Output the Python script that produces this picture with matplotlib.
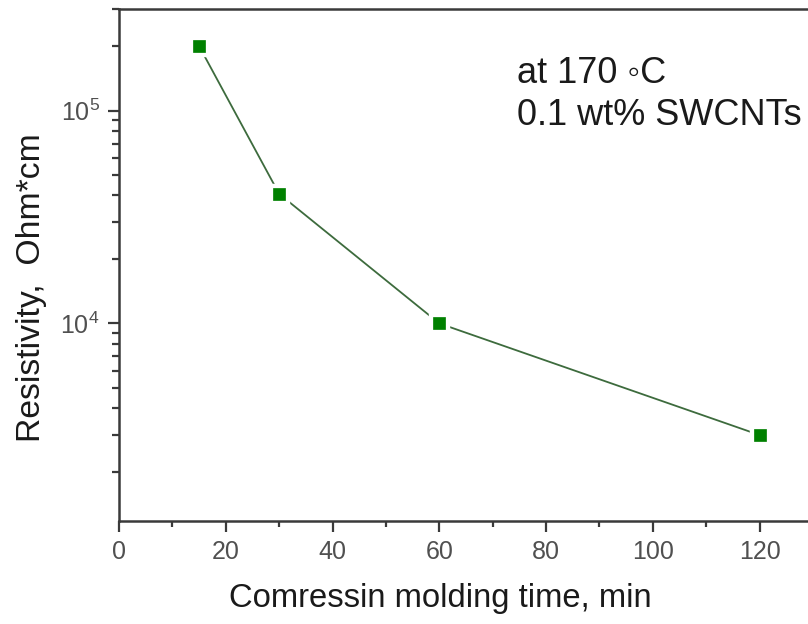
import matplotlib
matplotlib.use("Agg")
import matplotlib.pyplot as plt
from matplotlib.ticker import FixedLocator, LogLocator, NullFormatter, LogFormatterMathtext

# Resistivity vs compression molding time
time_min = [15, 30, 60, 120]
resistivity = [2.01e5, 4.06e4, 1.0e4, 2.99e3]

x_major = [0, 20, 40, 60, 80, 100, 120]
x_minor = [10, 30, 50, 70, 90, 110, 130]

plt.rcParams['font.family'] = ['Liberation Sans', 'DejaVu Sans']
plt.rcParams['mathtext.fontset'] = 'custom'
plt.rcParams['mathtext.rm'] = 'Liberation Sans'
plt.rcParams['mathtext.it'] = 'Liberation Sans'

W, H = 808, 624
fig = plt.figure(figsize=(W / 100, H / 100), dpi=100)
left, right, top, bottom = 119, 813, 9, 521
ax = fig.add_axes([left / W, 1 - bottom / H, (right - left) / W, (bottom - top) / H])

spine_c = '#3a3a3a'
tick_lbl_c = '#505050'
line_c = '#3d6b3d'
mark_c = '#008000'

ax.plot(time_min, resistivity, '-', color=line_c, lw=1.3, zorder=2)
ax.plot(time_min, resistivity, 's', ms=14, mfc='white', mec='white', zorder=3)
ax.plot(time_min, resistivity, 's', ms=8, mfc=mark_c, mec=mark_c, mew=0.5, zorder=4)

ax.set_yscale('log')
ax.set_xlim(0, 130)
ax.set_ylim(1180, 3e5)

ax.xaxis.set_major_locator(FixedLocator(x_major))
ax.xaxis.set_minor_locator(FixedLocator(x_minor))
ax.yaxis.set_major_locator(LogLocator(base=10, numticks=10))
ax.yaxis.set_minor_locator(LogLocator(base=10, subs=range(2, 10), numticks=20))
ax.yaxis.set_major_formatter(LogFormatterMathtext())
ax.yaxis.set_minor_formatter(NullFormatter())

for s in ax.spines.values():
    s.set_color(spine_c)
    s.set_linewidth(1.8)

ax.tick_params(which='both', direction='out', color=spine_c, width=1.6,
               labelcolor=tick_lbl_c, labelsize=18)
ax.tick_params(axis='x', which='major', length=8, pad=6)
ax.tick_params(axis='x', which='minor', length=4)
ax.tick_params(axis='y', which='major', length=8, pad=6)
ax.tick_params(axis='y', which='minor', length=5)

ax.set_xlabel('Comressin molding time, min', fontsize=23.6, color='#1a1a1a', va='baseline')
ax.xaxis.set_label_coords(0.4625, -0.1674)
ax.set_ylabel('Resistivity,  Ohm*cm', fontsize=24.3, color='#1a1a1a', va='center')
ax.yaxis.set_label_coords(-0.1254, 0.455)

ax.text(0.573, 0.855, 'at 170 \u25e6C', transform=ax.transAxes, fontsize=26,
        color='#1a1a1a', va='baseline', ha='left')
ax.text(0.573, 0.7734, '0.1 wt% SWCNTs', transform=ax.transAxes, fontsize=26,
        color='#1a1a1a', va='baseline', ha='left')

fig.savefig('out.png', dpi=100)
